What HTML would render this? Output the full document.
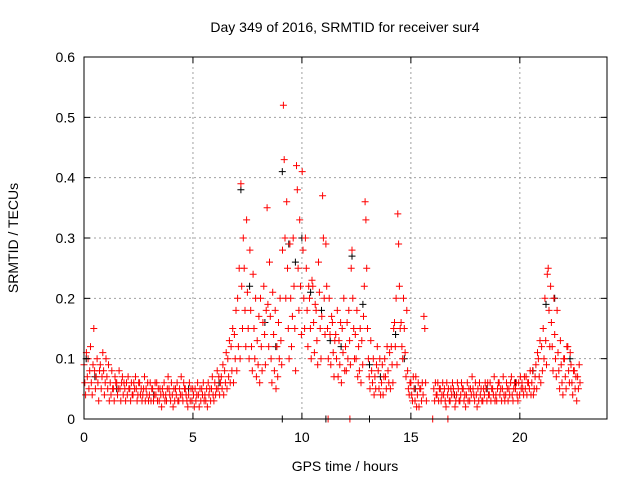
<!DOCTYPE html>
<html><head><meta charset="utf-8"><style>
body{margin:0;background:#fff}
svg{display:block;font-family:"Liberation Sans",sans-serif}
</style></head><body>
<svg id="chart" width="640" height="480" viewBox="0 0 640 480">
<rect width="640" height="480" fill="#fff"/>
<g id="grid"></g>
<g id="pts"></g>
<rect x="84" y="57" width="523" height="362" fill="none" stroke="#000" stroke-width="1"/>
<g id="ticks"></g>
<text x="345" y="32" text-anchor="middle" font-size="14" fill="#000">Day 349 of 2016, SRMTID for receiver sur4</text>
<text x="345" y="471" text-anchor="middle" font-size="14" fill="#000">GPS time / hours</text>
<text x="18" y="238" text-anchor="middle" font-size="14" fill="#000" transform="rotate(-90 18 238)">SRMTID / TECUs</text>
</svg>
<script>
const xTicks=[0,5,10,15,20];
const yTicks=[0,0.1,0.2,0.3,0.4,0.5,0.6];
const yTickLabels=["0","0.1","0.2","0.3","0.4","0.5","0.6"];
const times=[0,0.15,0.3,0.45,0.6,0.75,0.9,1.05,1.2,1.35,1.5,1.65,1.8,1.95,2.1,2.25,2.4,2.55,2.7,2.85,3.0,3.15,3.3,3.45,3.6,3.75,3.9,4.05,4.2,4.35,4.5,4.65,4.8,4.95,5.1,5.25,5.4,5.55,5.7,5.85,6.0,6.15,6.3,6.45,6.6,6.75,6.9,7.05,7.2,7.35,7.5,7.65,7.8,7.95,8.1,8.25,8.4,8.55,8.7,8.85,9.0,9.15,9.3,9.45,9.6,9.75,9.9,10.05,10.2,10.35,10.5,10.65,10.8,10.95,11.1,11.25,11.4,11.55,11.7,11.85,12.0,12.15,12.3,12.45,12.6,12.75,12.9,13.05,13.2,13.35,13.5,13.65,13.8,13.95,14.1,14.25,14.4,14.55,14.7,14.85,15.0,15.15,15.3,15.45,15.6,16.05,16.2,16.35,16.5,16.65,16.8,16.95,17.1,17.25,17.4,17.55,17.7,17.85,18.0,18.15,18.3,18.45,18.6,18.75,18.9,19.05,19.2,19.35,19.5,19.65,19.8,19.95,20.1,20.25,20.4,20.55,20.7,20.85,21.0,21.15,21.3,21.45,21.6,21.75,21.9,22.05,22.2,22.35,22.5,22.65];
const redVals=[[.09,.06,.04,.11],[.07,.1,.05,.08],[.12,.06,.04,.09],[.15,.08,.05,.07],[.1,.06,.03,.08],[.09,.05,.07,.11],[.08,.04,.06,.1],[.07,.05,.09,.03],[.06,.04,.08,.05],[.05,.03,.07,.06],[.06,.04,.05,.08],[.05,.03,.06,.07],[.04,.06,.05,.03],[.06,.04,.07,.05],[.05,.03,.06,.04],[.04,.06,.05,.07],[.05,.03,.04,.06],[.06,.04,.05,.03],[.04,.05,.07,.03],[.05,.04,.06,.03],[.04,.06,.03,.05],[.05,.03,.04,.06],[.04,.06,.03,.05],[.03,.05,.04,.02],[.05,.04,.06,.03],[.04,.03,.05,.07],[.05,.04,.03,.06],[.04,.02,.05,.03],[.05,.04,.06,.03],[.03,.05,.04,.07],[.04,.03,.06,.05],[.05,.04,.03,.02],[.04,.06,.03,.05],[.03,.05,.04,.02],[.05,.03,.04,.06],[.04,.02,.05,.03],[.05,.04,.06,.03],[.04,.03,.05,.02],[.06,.04,.05,.03],[.05,.07,.04,.03],[.06,.04,.05,.08],[.05,.07,.04,.06],[.07,.05,.09,.04],[.08,.06,.11,.05],[.1,.07,.13,.06],[.12,.08,.15,.06],[.14,.1,.18,.08],[.2,.12,.25,.1],[.39,.22,.15,.3],[.25,.18,.12,.33],[.21,.15,.1,.28],[.18,.12,.08,.24],[.15,.1,.2,.07],[.13,.09,.17,.06],[.2,.12,.08,.16],[.22,.14,.09,.18],[.35,.19,.12,.26],[.17,.1,.06,.21],[.14,.08,.18,.05],[.12,.07,.16,.1],[.2,.13,.09,.28],[.52,.43,.3,.2],[.36,.25,.15,.1],[.29,.2,.12,.17],[.3,.22,.15,.08],[.42,.38,.25,.18],[.33,.22,.14,.41],[.28,.2,.15,.3],[.25,.18,.12,.22],[.2,.15,.1,.23],[.22,.16,.11,.19],[.18,.13,.09,.26],[.21,.15,.1,.17],[.37,.3,.2,.14],[.29,.22,.15,.1],[.2,.14,.09,.17],[.16,.11,.07,.13],[.14,.1,.18,.07],[.13,.09,.16,.06],[.15,.11,.2,.08],[.12,.08,.16,.1],[.18,.13,.09,.25],[.28,.2,.15,.1],[.14,.1,.18,.07],[.12,.08,.15,.06],[.13,.09,.17,.22],[.36,.33,.25,.15],[.1,.07,.05,.13],[.08,.06,.1,.04],[.07,.05,.09,.12],[.08,.05,.1,.04],[.06,.09,.04,.07],[.1,.07,.05,.12],[.08,.06,.11,.05],[.12,.09,.06,.15],[.16,.12,.2,.09],[.34,.29,.22,.15],[.16,.12,.1,.2],[.15,.11,.07,.18],[.08,.05,.04,.06],[.06,.04,.03,.07],[.05,.03,.07,.02],[.04,.06,.02,.05],[.05,.03,.06,.04],[.17,.15,.06,.03],[.05,.03,.06,.04],[.04,.06,.03,.05],[.05,.03,.04,.06],[.04,.05,.03,.02],[.06,.04,.05,.03],[.03,.05,.04,.06],[.05,.04,.02,.03],[.04,.06,.05,.03],[.03,.04,.06,.05],[.05,.03,.04,.02],[.04,.06,.03,.05],[.03,.05,.04,.07],[.05,.04,.03,.06],[.04,.02,.05,.03],[.06,.04,.05,.03],[.03,.05,.04,.06],[.05,.03,.06,.04],[.04,.06,.03,.05],[.05,.04,.07,.03],[.04,.03,.05,.06],[.06,.04,.05,.03],[.05,.07,.04,.03],[.04,.06,.05,.03],[.05,.04,.06,.07],[.04,.03,.05,.06],[.05,.06,.04,.03],[.06,.04,.07,.05],[.06,.05,.04,.07],[.05,.07,.04,.06],[.06,.05,.08,.04],[.06,.08,.04,.05],[.07,.09,.05,.11],[.1,.07,.13,.06],[.12,.08,.15,.1],[.2,.13,.09,.24],[.25,.18,.12,.22],[.16,.12,.08,.2],[.14,.1,.07,.18],[.11,.08,.05,.13],[.09,.06,.04,.1],[.1,.07,.05,.12],[.12,.08,.06,.11],[.09,.06,.04,.08],[.08,.05,.07,.03],[.07,.05,.09,.06]];
const blackTimes=[0.1,0.5,1.5,3.2,4.8,6.2,7.2,7.6,8.3,8.8,9.1,9.4,9.7,10.0,10.4,10.9,11.3,11.8,12.3,12.8,13.1,13.6,14.3,14.7,15.2,17.0,18.5,19.8,20.6,21.2,21.6,22.3];
const blackVals=[0.1,0.07,0.05,0.04,0.05,0.06,0.38,0.22,0.16,0.12,0.41,0.29,0.26,0.3,0.21,0.18,0.13,0.12,0.27,0.19,0.09,0.07,0.14,0.1,0.05,0.04,0.05,0.06,0.08,0.19,0.2,0.1];
const zeroRedTimes=[11.2,12.2,16.0,16.7];
const zeroBlackTimes=[9.1,11.1,13.1];

const NS="http://www.w3.org/2000/svg";
const X0=84,X1=607,Y0=419,Y1=57,XMAX=24,YMAX=0.6;
const xs=t=>X0+t/XMAX*(X1-X0);
const ys=v=>Y0-v/YMAX*(Y0-Y1);
function mk(tag,at,parent){const e=document.createElementNS(NS,tag);for(const k in at)e.setAttribute(k,at[k]);parent.appendChild(e);return e;}
const grid=document.getElementById('grid'),ticks=document.getElementById('ticks'),pts=document.getElementById('pts');
xTicks.forEach(t=>{const x=xs(t);
 if(t>0){const g=mk('line',{x1:x,x2:x,y1:Y0,y2:Y1,stroke:'#a0a0a0','stroke-dasharray':'2,3'},grid);
 
 }
 mk('line',{x1:x,x2:x,y1:Y0,y2:Y0-6,stroke:'#000'},ticks);
 mk('line',{x1:x,x2:x,y1:Y1,y2:Y1+6,stroke:'#000'},ticks);
 const l=mk('text',{x:x,y:Y0+23,'text-anchor':'middle','font-size':14},ticks);l.textContent=t;
 
 
});
yTicks.forEach((v,i)=>{const y=ys(v);
 if(i>0&&i<yTicks.length-1){const g=mk('line',{x1:X0,x2:X1,y1:y,y2:y,stroke:'#a0a0a0','stroke-dasharray':'2,3'},grid);
 
 }
 mk('line',{x1:X0,x2:X0+6,y1:y,y2:y,stroke:'#000'},ticks);
 mk('line',{x1:X1,x2:X1-6,y1:y,y2:y,stroke:'#000'},ticks);
 const l=mk('text',{x:X0-9,y:y+5,'text-anchor':'end','font-size':14},ticks);l.textContent=yTickLabels[i];
 
 
});
function plus(t,v,c,name){const x=xs(t),y=ys(v);
 const p=mk('path',{d:`M${(x-3.5).toFixed(1)} ${y.toFixed(1)}h7M${x.toFixed(1)} ${(y-3.5).toFixed(1)}v7`,stroke:c,'stroke-width':1,fill:'none'},pts);
 
 }
blackTimes.forEach((t,i)=>plus(t,blackVals[i],'#000','black-point'));
zeroBlackTimes.forEach(t=>plus(t,0,'#000','black-zero-point'));
times.forEach((t,i)=>(redVals[i]||[]).forEach((v,k)=>plus(t+k*0.037,v,'#f00','red-point')));
zeroRedTimes.forEach(t=>plus(t,0,'#f00','red-zero-point'));
</script>
</body></html>
